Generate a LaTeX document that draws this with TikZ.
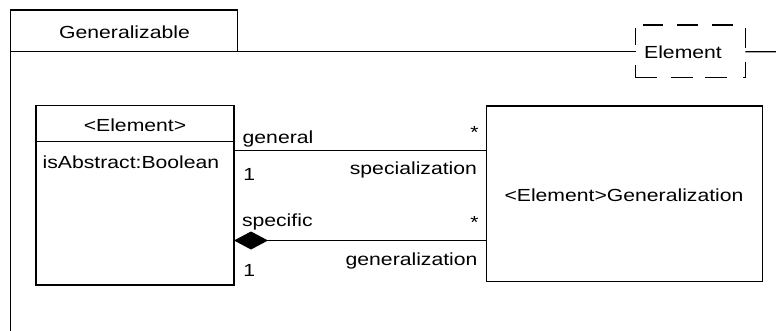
\documentclass[tikz,border=0pt]{standalone}
\usepackage{fontspec}
\setmainfont{Liberation Sans}[FakeStretch=1.21]
\usetikzlibrary{arrows.meta}
\begin{document}
\begin{tikzpicture}[x=1pt,y=-1pt,
  every node/.style={font=\fontsize{17.5}{21}\selectfont, inner sep=0pt, outer sep=0pt},
  box/.style={draw, line width=1.3pt},
  frameline/.style={line width=1.2pt},
  conn/.style={line width=1.2pt},
  dashseg/.style={line width=1.2pt}]
\useasboundingbox (0,0) rectangle (776,331);
\fill[white] (0,0) rectangle (776,331);
% package frame
\node[box, minimum width=227pt, minimum height=41.7pt, anchor=north west] (tab) at (10.7,10) {};
\node[anchor=base] (tabname) at (124.5,38.3) {Generalizable};
\node[minimum width=109.6pt, minimum height=52.7pt, anchor=north west] (tpl) at (635.7,25) {};
\node[anchor=base] (tplname) at (683,58.3) {Element};
% dashed outline of the template parameter box
\draw[dashseg] (643.3,25) -- (663.3,25) (677.3,25) -- (697.7,25) (711.7,25) -- (733.3,25);
\draw[dashseg] (635.7,28.3) -- (635.7,45);
\draw[dashseg] (635.7,65) -- (635.7,77.7) -- (656.7,77.7);
\draw[dashseg] (670.7,77.7) -- (692.7,77.7) (705,77.7) -- (726.7,77.7);
\draw[dashseg] (745.3,28.3) -- (745.3,48.3);
\draw[dashseg] (745.3,61.7) -- (745.3,77.7) -- (743.3,77.7);
\coordinate (fr) at (777,51.7);
\coordinate (fb) at (10.7,332);
\draw[frameline] (tab.south west) -- (tab.south west -| tpl.west);
\draw[frameline] (tab.south west -| tpl.east) -- (fr);
\draw[frameline] (tab.north west) -- (fb);
% classes
\node[box, minimum width=198pt, minimum height=179.3pt, anchor=north west] (elem) at (36,105.7) {};
\node[anchor=base] (elemname) at (135,131.7) {<Element>};
\node[anchor=base west] (elemattr) at (42.7,169) {isAbstract:Boolean};
\coordinate (hd) at (0,141.7);
\draw[line width=1.2pt] (elem.west |- hd) -- (elem.east |- hd);
\node[box, minimum width=276pt, minimum height=175.7pt, anchor=north west] (gen) at (486.7,106) {};
\node[anchor=base] (genname) at (624,201.7) {<Element>Generalization};
% connectors
\coordinate (c1) at (0,150.3);
\coordinate (c2) at (0,240.5);
\draw[conn] (elem.east |- c1) -- (gen.west |- c1);
\draw[conn, {Diamond[length=34pt,width=18pt]}-] (elem.east |- c2) -- (gen.west |- c2);
% labels
\node[anchor=base west] (l1) at (242.7,144) {general};
\node[anchor=base west] (l2) at (243.3,180.7) {1};
\node[anchor=base east] (l3) at (477,175) {specialization};
\node[anchor=center] (l4) at (474.5,132.5) {*};
\node[anchor=base west] (l5) at (242,226.7) {specific};
\node[anchor=base west] (l6) at (243.3,276.7) {1};
\node[anchor=base east] (l7) at (477.5,265.7) {generalization};
\node[anchor=center] (l8) at (474.5,222.5) {*};
\end{tikzpicture}
\end{document}
